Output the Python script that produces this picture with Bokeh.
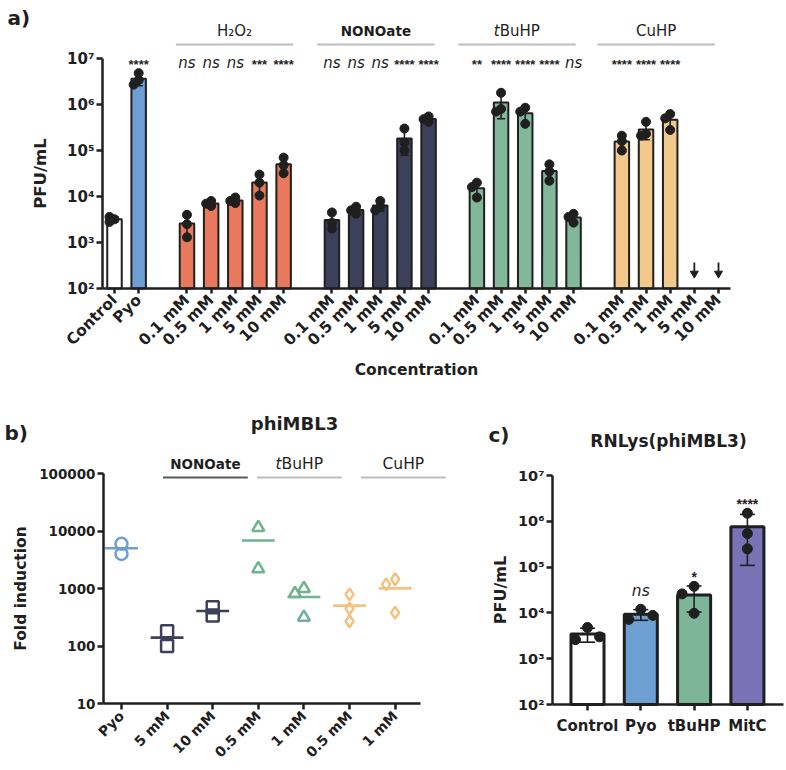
import numpy as np
from math import pi
from bokeh.plotting import figure
from bokeh.layouts import column, row
from bokeh.models import FixedTicker, Range1d
from bokeh.core.properties import value
from bokeh.embed import file_html
from bokeh.resources import INLINE

FONT = "DejaVu Sans"
STAR_FONT = "Liberation Sans"
INK = "#1f1f1f"
SUP = str.maketrans("0123456789", "⁰¹²³⁴⁵⁶⁷⁸⁹")

# ---------------- a) PFU/mL after treatment ----------------
a_conc_labels = ["0.1 mM", "0.5 mM", "1 mM", "5 mM", "10 mM"]
a_group_names = ["H₂O₂", "NONOate", "tBuHP", "CuHP"]
a_control = [3200, 3600, 2800]
a_pyo = [4.8e6, 3.4e6, 2.7e6]
a_h2o2 = [[4000, 2500, 1300], [8000, 7000, 6200], [9500, 8000, 7200],
          [30000, 20000, 10500], [70000, 48000, 32000]]
a_nonoate = [[4500, 2700, 2000], [6000, 5000, 4200], [8000, 6000, 5000],
             [3.0e5, 1.5e5, 1.0e5], [5.5e5, 4.8e5, 4.2e5]]
a_tbuhp = [[20000, 16000, 9500], [1.8e6, 8.0e5, 7.0e5], [8.5e5, 7.0e5, 3.8e5],
           [5.0e4, 3.5e4, 2.2e4], [4200, 3600, 2700]]
a_cuhp = [[2.1e5, 1.6e5, 1.0e5], [4.2e5, 2.3e5, 2.1e5], [6.2e5, 5.0e5, 2.8e5], [], []]
a_sig_pyo = "****"
a_sig = [["ns", "ns", "ns", "***", "****"],
         ["ns", "ns", "ns", "****", "****"],
         ["**", "****", "****", "****", "ns"],
         ["****", "****", "****", "", ""]]
a_pyo_color = "#6E9FD3"
a_group_colors = ["#E8795C", "#3D405B", "#81B89B", "#F3C98B"]

# ---------------- b) fold induction, phiMBL3 ----------------
b_title = "phiMBL3"
b_labels = ["Pyo", "5 mM", "10 mM", "0.5 mM", "1 mM", "0.5 mM", "1 mM"]
b_treatment = ["Pyo", "NONOate", "NONOate", "tBuHP", "tBuHP", "CuHP", "CuHP"]
b_values = [[6000, 4000], [180, 100], [470, 340], [11500, 2200],
            [1000, 820, 316], [790, 450, 270], [1450, 1180, 380]]
b_markers = {"Pyo": "circle", "NONOate": "square", "tBuHP": "triangle", "CuHP": "diamond"}
b_colors = {"Pyo": "#6E9FD3", "NONOate": "#3D405B", "tBuHP": "#72B38F", "CuHP": "#F4C27F"}
b_ticks = [10, 100, 1000, 10000, 100000]

# ---------------- c) RNLys(phiMBL3) ----------------
c_title = "RNLys(phiMBL3)"
c_labels = ["Control", "Pyo", "tBuHP", "MitC"]
c_values = [[4800, 2600, 3000], [12000, 7200, 8800],
            [38000, 26000, 9800], [1.5e6, 5.4e5, 2.5e5]]
c_sig = ["", "ns", "*", "****"]
c_colors = ["white", "#6E9FD3", "#7DB598", "#7B71B5"]

pfu_ticks = [1e2, 1e3, 1e4, 1e5, 1e6, 1e7]


class Canvas:
    """Linear x / log10 y mapping between canvas pixels and data for one figure."""

    def __init__(self, w, h, x0_px, ux, yref_px, yref_dec, uy):
        self.w, self.h = w, h
        self.x0_px, self.ux = x0_px, ux
        self.yref_px, self.yref_dec, self.uy = yref_px, yref_dec, uy

    def px(self, sx):
        return (sx - self.x0_px) / self.ux

    def py(self, sy):
        return 10 ** (self.yref_dec + (self.yref_px - sy) / self.uy)


def new_fig(cv):
    p = figure(width=cv.w, height=cv.h, title=None, y_axis_type="log",
               x_range=Range1d(cv.px(0), cv.px(cv.w)),
               y_range=Range1d(cv.py(cv.h), cv.py(0)),
               output_backend="svg", toolbar_location=None,
               min_border=0, min_border_left=0, min_border_right=0,
               min_border_top=0, min_border_bottom=0)
    p.grid.visible = False
    p.outline_line_color = None
    p.background_fill_color = "white"
    p.border_fill_color = "white"
    for ax in p.axis:
        ax.axis_line_width = 2.5
        ax.axis_line_color = INK
        ax.major_tick_line_width = 2.5
        ax.major_tick_line_color = INK
        ax.major_tick_out = 6
        ax.major_tick_in = 0
        ax.minor_tick_line_color = None
        ax.major_label_text_font = FONT
        ax.major_label_text_font_style = "bold"
        ax.major_label_text_color = INK
        ax.axis_label_text_font = FONT
        ax.axis_label_text_font_style = "bold"
        ax.axis_label_text_color = INK
    return p


def place_axes(p, x_lo, x_hi, y_lo, y_hi):
    """Pin both axes at the plot origin instead of the canvas edge."""
    p.xaxis.fixed_location = y_lo
    p.yaxis.fixed_location = x_lo
    p.xaxis.bounds = (x_lo, x_hi)
    p.yaxis.bounds = (y_lo, y_hi)


def swarm(vals, cv, diam, step):
    """Sideways offsets (data units) so that overlapping points sit next to each other."""
    placed, offs = [], []
    for v in vals:
        sy = np.log10(v) * cv.uy
        sx = 0.0
        for k in (0, -1, 1, -2, 2, -3, 3):
            sx = k * step
            if all(np.hypot(sx - a, sy - b) >= diam for a, b in placed):
                break
        placed.append((sx, sy))
        offs.append(sx / cv.ux)
    return offs


def bars_with_points(p, cv, floor, xs, samples, colors, width, lw, cap_half, dot, diam, step):
    bx, btop, bcol, ehi, elo = [], [], [], [], []
    dx, dy = [], []
    for x, s, c in zip(xs, samples, colors):
        if not s:
            continue
        v = np.asarray(s, float)
        m, sd = v.mean(), v.std(ddof=1)
        bx.append(x)
        btop.append(m)
        bcol.append(c)
        ehi.append(m + sd)
        elo.append(m - sd if m - sd > floor else floor)
        for o, val in zip(swarm(s, cv, diam, step), s):
            dx.append(x + o)
            dy.append(val)
    p.vbar(x=bx, top=btop, bottom=floor, width=width, fill_color=bcol,
           line_color=INK, line_width=lw)
    p.segment(x0=bx, y0=elo, x1=bx, y1=ehi, line_color=INK, line_width=1.6)
    cx0 = [x - cap_half for x in bx]
    cx1 = [x + cap_half for x in bx]
    p.segment(x0=cx0, y0=ehi, x1=cx1, y1=ehi, line_color=INK, line_width=1.6)
    p.segment(x0=cx0, y0=elo, x1=cx1, y1=elo, line_color=INK, line_width=1.6)
    p.scatter(x=dx, y=dy, marker="circle", size=dot, fill_color=INK, line_color=INK)
    # highest mark (error cap or point) per bar, for placing significance labels
    return {x: max(h, max(s)) for x, h, s in
            zip(bx, ehi, [s for s in samples if s])}


def put_text(p, x, y, text, size, style="normal", align="center", baseline="middle",
             font=FONT, **kw):
    p.text(x=[x], y=[y], text=[text], text_align=align, text_baseline=baseline,
           text_font=value(font), text_font_size=f"{size}px", text_font_style=style,
           text_color=INK, **kw)


def sig_label(p, x, y, t, star_size, ns_size, ns_offset=0, star_offset=0):
    if t == "ns":
        put_text(p, x, y, t, ns_size, "italic", y_offset=ns_offset)
    else:
        put_text(p, x, y, t, star_size, "bold", font=STAR_FONT, y_offset=star_offset)


def header(p, xc, y_text, half, y_line, name, size, line_color, bold):
    """Treatment name with a rule underneath; a leading lowercase 't' is set in italics."""
    p.segment(x0=[xc - half], y0=[y_line], x1=[xc + half], y1=[y_line],
              line_color=line_color, line_width=2.2)
    style = "bold" if bold else "normal"
    if name == "tBuHP":
        split = -1.15 * size
        put_text(p, xc, y_text, "t", size, "italic", "right", x_offset=split)
        put_text(p, xc, y_text, "BuHP", size, style, "left", x_offset=split)
    else:
        put_text(p, xc, y_text, name, size, style)


# ================= panel a =================
ca = Canvas(786, 395, 114, 24.16, 288, 2.0, 46.0)
pa = new_fig(ca)

a_x = [0, 1]
a_samples = [a_control, a_pyo]
a_cols = ["white", a_pyo_color]
a_tick_labels = {0: "Control", 1: "Pyo"}
groups = [a_h2o2, a_nonoate, a_tbuhp, a_cuhp]
for g, series in enumerate(groups):
    for i, s in enumerate(series):
        pos = 3 + 6 * g + i
        a_x.append(pos)
        a_samples.append(s)
        a_cols.append(a_group_colors[g])
        a_tick_labels[pos] = a_conc_labels[i]

bars_with_points(pa, ca, pfu_ticks[0], a_x, a_samples, a_cols, 0.6, 2, 0.17, 9, 5, 5)

# below-detection markers (no plaques recovered)
nd = [x for x, s in zip(a_x, a_samples) if not s]
pa.segment(x0=nd, y0=[ca.py(262)] * len(nd), x1=nd, y1=[ca.py(274)] * len(nd),
           line_color=INK, line_width=1.8)
pa.scatter(x=nd, y=[ca.py(273)] * len(nd), marker="inverted_triangle", size=8,
           fill_color=INK, line_color=INK)

# significance marks
sig_y = ca.py(62)
sig_label(pa, 1, sig_y, a_sig_pyo, 13, 15, star_offset=2)
for g in range(4):
    for i, t in enumerate(a_sig[g]):
        if t:
            sig_label(pa, 3 + 6 * g + i, sig_y, t, 13, 15, star_offset=2)

a_shift = [-0.03, -0.18, -0.34, -0.58]
for g, name in enumerate(a_group_names):
    header(pa, 5 + 6 * g + a_shift[g], ca.py(30), 2.43, ca.py(44), name,
           13.5 if name == "NONOate" else 15, "#BDBDBD", name == "NONOate")
put_text(pa, ca.px(7), ca.py(17), "a)", 20, "bold", align="left")

place_axes(pa, ca.px(102), ca.px(730), pfu_ticks[0], pfu_ticks[-1])
pa.xaxis.ticker = FixedTicker(ticks=a_x)
pa.xaxis.major_label_overrides = a_tick_labels
pa.xaxis.major_label_orientation = pi / 4
pa.xaxis.major_label_text_font_size = "15.5px"
pa.xaxis.major_label_standoff = 4
pa.xaxis.major_tick_out = 5
pa.xaxis.axis_label = "Concentration"
pa.xaxis.axis_label_text_font_size = "15.5px"
pa.xaxis.axis_label_standoff = 2
pa.yaxis.ticker = FixedTicker(ticks=pfu_ticks)
pa.yaxis.major_label_overrides = {t: "10" + str(int(round(np.log10(t)))).translate(SUP)
                                  for t in pfu_ticks}
pa.yaxis.major_label_text_font_size = "15px"
pa.yaxis.major_label_standoff = 2
pa.yaxis.axis_label = "PFU/mL"
pa.yaxis.axis_label_text_font_size = "16.5px"
pa.yaxis.axis_label_standoff = 14

# ================= panel b =================
cb = Canvas(470, 375, 121, 45.6, 308, 1.0, 57.5)
pb = new_fig(cb)
for i, (vals, tr) in enumerate(zip(b_values, b_treatment)):
    col = b_colors[tr]
    m = float(np.mean(vals))
    pb.segment(x0=[i - 0.36], y0=[m], x1=[i + 0.36], y1=[m], line_color=col, line_width=2.6)
    offs = swarm(vals, cb, 6, 9)
    pb.scatter(x=[i + o for o in offs], y=vals, marker=b_markers[tr], size=12,
               fill_color=None, line_color=col, line_width=2.5)

b_shift = {"NONOate": 0.34, "tBuHP": 0.4, "CuHP": 0.68}
b_rule = {"NONOate": "#5A5A5A", "tBuHP": "#BDBDBD", "CuHP": "#BDBDBD"}
for tr in ["NONOate", "tBuHP", "CuHP"]:
    idx = [i for i, t in enumerate(b_treatment) if t == tr]
    header(pb, float(np.mean(idx)) + b_shift[tr], cb.py(68), 0.93, cb.py(82), tr,
           13.5 if tr == "NONOate" else 15.5, b_rule[tr], tr == "NONOate")
put_text(pb, cb.px(294), cb.py(28), b_title, 18, "bold")
put_text(pb, cb.px(4), cb.py(37), "b)", 20, "bold", align="left")

place_axes(pb, cb.px(103), cb.px(420), b_ticks[0], b_ticks[-1])
pb.xaxis.ticker = FixedTicker(ticks=list(range(len(b_labels))))
pb.xaxis.major_label_overrides = {i: t for i, t in enumerate(b_labels)}
pb.xaxis.major_label_orientation = pi / 4
pb.xaxis.major_label_text_font_size = "14px"
pb.xaxis.major_label_standoff = 4
pb.yaxis.ticker = FixedTicker(ticks=b_ticks)
pb.yaxis.major_label_overrides = {t: str(t) for t in b_ticks}
pb.yaxis.major_label_text_font_size = "13.5px"
pb.yaxis.major_label_standoff = 2
pb.yaxis.axis_label = "Fold induction"
pb.yaxis.axis_label_text_font_size = "15.5px"
pb.yaxis.axis_label_standoff = 6

# ================= panel c =================
cc = Canvas(316, 375, 117, 53.3, 309, 2.0, 45.8)
pc = new_fig(cc)
c_x = list(range(len(c_labels)))
tops = bars_with_points(pc, cc, pfu_ticks[0], c_x, c_values, c_colors,
                        0.62, 3, 0.14, 10, 13, 12)
for x, t in zip(c_x, c_sig):
    if t:
        sig_label(pc, x, tops[x], t, 14, 15.5, ns_offset=-18, star_offset=-9)
put_text(pc, cc.px(198), cc.py(45), c_title, 17, "bold")
put_text(pc, cc.px(18), cc.py(39), "c)", 20, "bold", align="left")

place_axes(pc, cc.px(82), cc.px(313), pfu_ticks[0], pfu_ticks[-1])
pc.xaxis.ticker = FixedTicker(ticks=c_x)
pc.xaxis.major_label_overrides = {i: t for i, t in enumerate(c_labels)}
pc.xaxis.major_label_text_font_size = "15px"
pc.xaxis.major_label_standoff = 6
pc.yaxis.ticker = FixedTicker(ticks=pfu_ticks)
pc.yaxis.major_label_overrides = {t: "10" + str(int(round(np.log10(t)))).translate(SUP)
                                  for t in pfu_ticks}
pc.yaxis.major_label_text_font_size = "14.5px"
pc.yaxis.major_label_standoff = 2
pc.yaxis.axis_label = "PFU/mL"
pc.yaxis.axis_label_text_font_size = "16px"
pc.yaxis.axis_label_standoff = 5

layout = column(pa, row(pb, pc))
open("out.html", "w").write(file_html(layout, INLINE))
